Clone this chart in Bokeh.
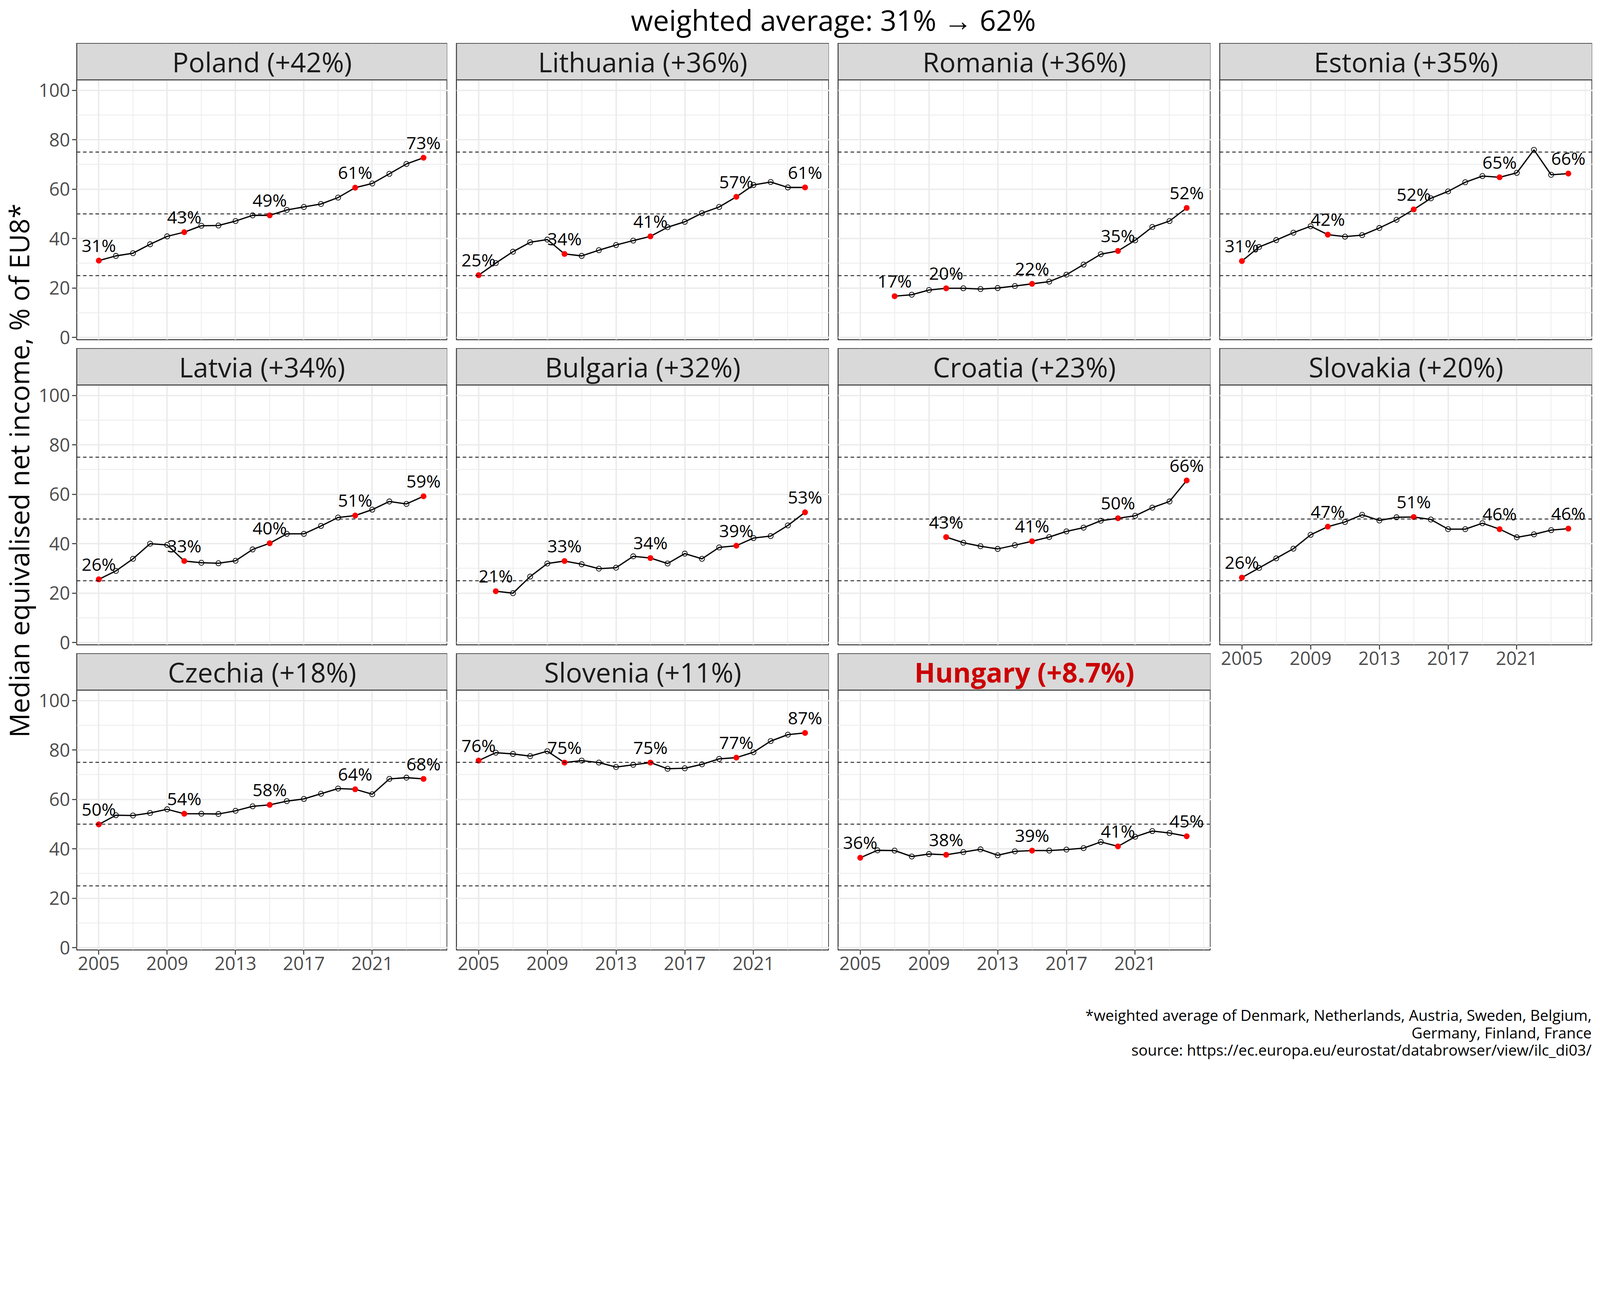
from math import pi
from bokeh.plotting import figure
from bokeh.layouts import column, row
from bokeh.models import FixedTicker, Grid, Span, Range1d, ColumnDataSource
from bokeh.embed import file_html
from bokeh.resources import INLINE
from bokeh.core.properties import value

# ---------------- data ----------------
years = list(range(2005, 2025))

countries = ["Poland", "Lithuania", "Romania", "Estonia",
             "Latvia", "Bulgaria", "Croatia", "Slovakia",
             "Czechia", "Slovenia", "Hungary"]
changes = ["+42%", "+36%", "+36%", "+35%", "+34%", "+32%",
           "+23%", "+20%", "+18%", "+11%", "+8.7%"]

poland = [31.1, 33.0, 34.1, 37.7, 40.9, 42.6, 45.2, 45.3, 47.1, 49.4,
          49.4, 51.6, 52.8, 54.0, 56.6, 60.6, 62.3, 66.2, 70.2, 72.7]
lithuania = [25.2, 30.1, 34.7, 38.5, 39.6, 33.8, 33.0, 35.3, 37.4, 39.2,
             40.9, 44.6, 46.8, 50.3, 52.8, 56.9, 61.7, 62.9, 60.7, 60.7]
romania = [None, None, 16.7, 17.3, 19.2, 19.9, 19.9, 19.6, 20.0, 20.8,
           21.7, 22.6, 25.4, 29.5, 33.7, 35.0, 39.3, 44.7, 47.1, 52.4]
estonia = [30.9, 36.6, 39.4, 42.4, 45.0, 41.6, 40.8, 41.4, 44.3, 47.6,
           51.8, 56.3, 59.1, 62.8, 65.3, 64.8, 66.6, 75.9, 65.8, 66.3]
latvia = [25.6, 29.0, 33.9, 40.0, 39.5, 33.0, 32.3, 32.1, 33.1, 37.7,
          40.2, 44.0, 44.0, 47.2, 50.6, 51.4, 53.8, 57.1, 56.1, 59.2]
bulgaria = [None, 20.8, 20.0, 26.7, 32.0, 33.0, 31.7, 29.9, 30.3, 34.9,
            34.2, 32.0, 36.0, 33.9, 38.5, 39.2, 42.3, 43.1, 47.4, 52.7]
croatia = [None, None, None, None, None, 42.7, 40.4, 39.0, 37.9, 39.4,
           41.0, 42.7, 45.0, 46.5, 49.3, 50.3, 51.3, 54.6, 57.1, 65.6]
slovakia = [26.3, 30.2, 34.1, 38.0, 43.6, 46.9, 48.8, 51.7, 49.4, 50.7,
            50.8, 49.8, 45.9, 45.9, 48.3, 45.9, 42.6, 43.8, 45.5, 46.1]
czechia = [49.9, 53.6, 53.5, 54.5, 56.0, 54.2, 54.2, 54.1, 55.4, 57.2,
           57.8, 59.3, 60.2, 62.3, 64.4, 64.1, 62.1, 68.3, 68.8, 68.3]
slovenia = [75.7, 78.9, 78.4, 77.5, 79.5, 74.9, 75.7, 74.9, 73.1, 74.0,
            74.9, 72.4, 72.6, 74.2, 76.4, 76.9, 79.1, 83.6, 86.2, 86.9]
hungary = [36.4, 39.4, 39.3, 36.9, 37.9, 37.6, 38.7, 39.8, 37.4, 39.0,
           39.3, 39.3, 39.7, 40.3, 42.8, 41.0, 44.9, 47.2, 46.4, 45.1]

series = [poland, lithuania, romania, estonia, latvia, bulgaria,
          croatia, slovakia, czechia, slovenia, hungary]

highlight_years = [2010, 2015, 2020]
ref_levels = [25, 50, 75]
y_ticks = [0, 20, 40, 60, 80, 100]
y_minor = [10, 30, 50, 70, 90]
x_ticks = [2005, 2009, 2013, 2017, 2021]
x_minor = [2007, 2011, 2015, 2019, 2023, 2025]

title_text = "weighted average: 31% \u2192 62%"
ylab_text = "Median equivalised net income, % of EU8*"
caption_lines = ["*weighted average of Denmark, Netherlands, Austria, Sweden, Belgium,",
                 "Germany, Finland, France",
                 "source: https://ec.europa.eu/eurostat/databrowser/view/ilc_di03/"]

# ---------------- layout constants (CSS px) ----------------
FONT = "Open Sans"
TITLE_H = 110
FRAME_W = 954
STRIP_PX = 94
PANEL_PX = 665
FRAME_H = STRIP_PX + PANEL_PX
COL_GAP = 23
ROW_GAP = 22
OVERLAP = 12
YLAB_W = 95
LEFT_B = 96
BOTTOM_B = 90
CAP_H = 195
X0, X1 = 2003.71, 2025.40
Y0, Y1 = -0.9, 104.2
UPP = (Y1 - Y0) / PANEL_PX
Y_TOP = Y1 + STRIP_PX * UPP

TOTAL_W = YLAB_W + LEFT_B + FRAME_W + 3 * (COL_GAP + FRAME_W) + 4
COLS_H = 2 * (FRAME_H + ROW_GAP) + FRAME_H + BOTTOM_B


def style_axis(ax):
    ax.axis_line_color = None
    ax.major_tick_line_color = "#333333"
    ax.major_tick_line_width = 2.5
    ax.major_tick_out = 12
    ax.major_tick_in = 0
    ax.minor_tick_line_color = None
    ax.major_label_text_font = FONT
    ax.major_label_text_font_size = "47px"
    ax.major_label_text_color = "#4D4D4D"
    ax.major_label_standoff = 5


def make_panel(i, left, bottom):
    name, change, vals = countries[i], changes[i], series[i]
    xs = [y for y, v in zip(years, vals) if v is not None]
    ys = [v for v in vals if v is not None]
    extra = OVERLAP if (left and not bottom) else 0
    w = FRAME_W + (LEFT_B if left else COL_GAP)
    h = FRAME_H + (BOTTOM_B if bottom else ROW_GAP + extra)
    kw = {}
    if extra:
        kw["margin"] = (0, 0, -extra, 0)
    p = figure(width=w, height=h, output_backend="svg", toolbar_location=None,
               x_range=Range1d(X0, X1), y_range=Range1d(Y0, Y_TOP),
               x_axis_location="below" if bottom else None,
               y_axis_location="left" if left else None,
               min_border_left=LEFT_B if left else COL_GAP, min_border_right=0,
               min_border_top=0,
               min_border_bottom=BOTTOM_B if bottom else ROW_GAP + extra, **kw)
    p.grid.grid_line_color = None
    p.outline_line_color = "#333333"
    p.outline_line_width = 2.5
    p.background_fill_color = "white"
    p.border_fill_alpha = 0

    p.add_layout(Grid(dimension=0, ticker=FixedTicker(ticks=x_ticks, minor_ticks=x_minor),
                      grid_line_color="#EBEBEB", grid_line_width=3.7,
                      minor_grid_line_color="#EBEBEB", minor_grid_line_width=1.8), "center")
    p.add_layout(Grid(dimension=1, ticker=FixedTicker(ticks=y_ticks, minor_ticks=y_minor),
                      grid_line_color="#EBEBEB", grid_line_width=3.7,
                      minor_grid_line_color="#EBEBEB", minor_grid_line_width=1.8), "center")

    if left:
        ax = p.yaxis[0]
        ax.ticker = FixedTicker(ticks=y_ticks)
        style_axis(ax)
    if bottom:
        ax = p.xaxis[0]
        ax.ticker = FixedTicker(ticks=x_ticks)
        style_axis(ax)

    for lv in ref_levels:
        p.add_layout(Span(location=lv, dimension="width", line_color="black",
                          line_width=2, line_dash="9 7"))

    p.line(xs, ys, line_color="black", line_width=3.3)

    hl = set(highlight_years) | {xs[0], xs[-1]}
    ox = [x for x, y in zip(xs, ys) if x not in hl]
    oy = [y for x, y in zip(xs, ys) if x not in hl]
    rx = [x for x, y in zip(xs, ys) if x in hl]
    ry = [y for x, y in zip(xs, ys) if x in hl]
    p.scatter(ox, oy, size=13, marker="circle", fill_color=None,
              line_color="black", line_width=1.8)
    p.scatter(rx, ry, size=15, marker="circle", fill_color="#FF0000", line_color=None)
    src = ColumnDataSource(dict(x=rx, y=ry, t=["%d%%" % round(v) for v in ry]))
    p.text(x="x", y="y", text="t", source=src, text_font=value(FONT),
           text_font_size="44.6px", text_color="black", text_align="center",
           text_baseline="middle", y_offset=-39.6)

    # facet strip
    p.quad(left=[X0], right=[X1], bottom=[Y1], top=[Y_TOP], fill_color="#D9D9D9",
           line_color="#333333", line_width=2.5)
    hung = name == "Hungary"
    p.text(x=[(X0 + X1) / 2], y=[(Y1 + Y_TOP) / 2], text=["%s (%s)" % (name, change)],
           text_font=value(FONT), text_font_size="69.4px",
           text_color="#CC0000" if hung else "#1A1A1A",
           text_font_style="bold" if hung else "normal",
           text_align="center", text_baseline="middle")
    return p


def text_fig(w, h):
    p = figure(width=w, height=h, output_backend="svg", toolbar_location=None,
               x_range=Range1d(0, w), y_range=Range1d(h, 0),
               x_axis_location=None, y_axis_location=None,
               min_border=0)
    p.grid.grid_line_color = None
    p.outline_line_color = None
    return p


# title
tf = text_fig(TOTAL_W, TITLE_H)
tf.text(x=[2133], y=[50], text=[title_text], text_font=value(FONT),
        text_font_size="73px", text_color="black", text_align="center",
        text_baseline="middle")

# y label
yf = text_fig(YLAB_W, COLS_H)
yf.text(x=[47.5], y=[1094], text=[ylab_text], text_font=value(FONT),
        text_font_size="69.4px", text_color="black", text_align="center",
        text_baseline="middle", angle=pi / 2)

# panels arranged by column
col_children = []
for c in range(4):
    figs = []
    for r in range(3):
        i = r * 4 + c
        if i >= len(countries):
            continue
        bottom = (i + 4) >= len(countries)
        figs.append(make_panel(i, left=(c == 0), bottom=bottom))
    col_children.append(column(*figs, spacing=0))

# caption
cf = text_fig(TOTAL_W, CAP_H)
cf.text(x=[4074] * 3, y=[76, 121, 165], text=caption_lines, text_font=value(FONT),
        text_font_size="38.8px", text_color="black", text_align="right",
        text_baseline="middle")

layout = column(tf, row(yf, *col_children, spacing=0), cf, spacing=0)

open("out.html", "w").write(file_html(layout, INLINE))
